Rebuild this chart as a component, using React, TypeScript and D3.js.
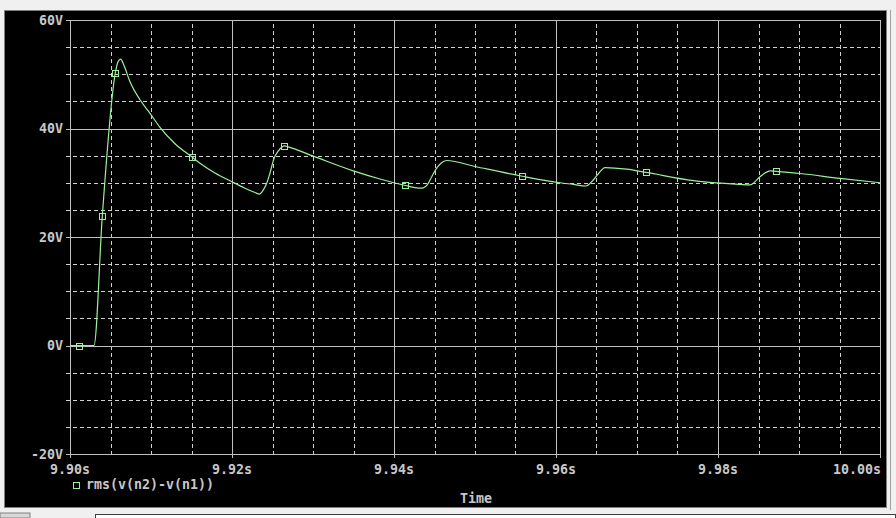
import React from "react";
import * as d3 from "d3";

// tick labels
const timeTickValues = [9.9, 9.92, 9.94, 9.96, 9.98, 10.0];
const timeTickLabels = ["9.90s", "9.92s", "9.94s", "9.96s", "9.98s", "10.00s"];
const voltTickValues = [-20, 0, 20, 40, 60];
const voltTickLabels = ["-20V", "0V", "20V", "40V", "60V"];
const seriesName = "rms(v(n2)-v(n1))";
const axisTitle = "Time";

// trace
const times = [
  9.9, 9.90296, 9.90399, 9.90559, 9.90593, 9.90626, 9.90667, 9.90741, 9.90864, 9.90988,
  9.91111, 9.91296, 9.9151, 9.91605, 9.9179, 9.91996, 9.9216, 9.92284, 9.92337, 9.92383,
  9.92428, 9.92469, 9.92519, 9.92568, 9.92617, 9.92646, 9.92695, 9.93004, 9.93498, 9.93827,
  9.9414, 9.94259, 9.94342, 9.94423, 9.94469, 9.94527, 9.9458, 9.94651, 9.95, 9.95584,
  9.96049, 9.96214, 9.9637, 9.9646, 9.96531, 9.96605, 9.96873, 9.97115, 9.97695, 9.98272,
  9.98395, 9.98519, 9.9858, 9.98642, 9.9872, 9.99012, 9.99506, 10.0,
];
const volts = [
  0, 0, 23.9, 50.2, 52.3, 52.8, 51.6, 48.6, 45.3, 42.8,
  40.2, 37.2, 34.7, 33.6, 31.8, 30.2, 29.0, 28.2, 27.9, 28.6,
  29.9, 31.8, 34.5, 35.8, 36.6, 36.8, 36.6, 34.9, 32.2, 30.7,
  29.5, 29.1, 29.0, 29.9, 31.2, 32.7, 33.6, 34.1, 33.0, 31.2,
  30.0, 29.7, 29.4, 30.5, 31.8, 32.8, 32.5, 31.9, 30.4, 29.7,
  29.6, 31.1, 31.8, 32.2, 32.1, 31.7, 30.8, 30.0,
];

// symbols drawn on the trace
const markerTimes = [9.90115, 9.90399, 9.90559, 9.9151, 9.92646, 9.9414, 9.95584, 9.97115, 9.9872];
const markerVolts = [0, 23.9, 50.2, 34.7, 36.8, 29.5, 31.2, 31.9, 32.1];

const W = 896, H = 518;
const left = 70, right = 880, top = 20, bottom = 454;
const font = "'DejaVu Sans Mono', monospace";
const textColor = "#c8c8c8";
const gridColor = "#c0c0c0";
const traceColor = "#9cf09c";

export default function App() {
  const x = d3.scaleLinear().domain([9.9, 10.0]).range([left, right]);
  const y = d3.scaleLinear().domain([-20, 60]).range([bottom, top]);

  const minorX = d3.range(0, 21).map((i) => 9.9 + i * 0.005).filter((_, i) => i % 4 !== 0);
  const minorY = d3.range(-20, 61, 5).filter((v) => v % 20 !== 0);

  const pts = times.map((t, i) => [t, volts[i]] as [number, number]);
  const line = d3.line<[number, number]>()
    .x((d) => x(d[0]))
    .y((d) => y(d[1]))
    .curve(d3.curveMonotoneX);

  const px = (v: number) => Math.round(v) + 0.5;

  return (
    <div style={{ position: "absolute", left: 0, top: 0, width: W, height: H }}>
      <svg width={W} height={H} style={{ display: "block" }}>
        {/* window chrome */}
        <rect x={0} y={0} width={W} height={H} fill="#f0f0f0" />
        <rect x={4.5} y={10.5} width={882} height={497} fill="#000" stroke="#808080" />
        <line x1={890.5} y1={10} x2={890.5} y2={510} stroke="#a0a0a0" />
        <rect x={95.5} y={514.5} width={800} height={10} fill="#fff" stroke="#404040" />
        <rect x={0} y={513} width={30} height={5} fill="#d8d8d8" stroke="#808080" />

        {/* dashed grid */}
        <g stroke="#d0d0d0" strokeDasharray="4,3" shapeRendering="crispEdges">
          {minorY.map((v) => (
            <line key={"hy" + v} x1={66} x2={right} y1={px(y(v))} y2={px(y(v))} />
          ))}
          {minorX.map((t, i) => (
            <line key={"vx" + i} x1={px(x(t))} x2={px(x(t))} y1={top + 4} y2={bottom} />
          ))}
        </g>

        {/* solid grid + frame */}
        <g stroke={gridColor} shapeRendering="crispEdges">
          {voltTickValues.map((v) => (
            <line key={"sy" + v} x1={66} x2={right} y1={px(y(v))} y2={px(y(v))} />
          ))}
          {timeTickValues.map((t, i) => (
            <line key={"sx" + i} x1={px(x(t))} x2={px(x(t))} y1={top} y2={bottom + 4} />
          ))}
        </g>

        {/* trace */}
        <path d={line(pts) || ""} fill="none" stroke={traceColor} strokeWidth={1.2} />
        <g fill="none" stroke={traceColor} shapeRendering="crispEdges">
          {markerTimes.map((t, i) => (
            <rect key={"m" + i} x={px(x(t)) - 3} y={px(y(markerVolts[i])) - 3} width={6} height={6} />
          ))}
        </g>

        {/* labels */}
        <g fill={textColor} fontFamily={font} fontSize={13.3} fontWeight="bold">
          {voltTickValues.map((v, i) => (
            <text key={"yl" + v} x={63} y={y(v) + 4.8} textAnchor="end">{voltTickLabels[i]}</text>
          ))}
          {timeTickValues.map((t, i) => (
            <text key={"xl" + i} x={i === 5 ? right + 1 : x(t)} y={474} textAnchor={i === 5 ? "end" : "middle"}>
              {timeTickLabels[i]}
            </text>
          ))}
          <text x={86} y={489}>{seriesName}</text>
          <text x={476} y={503} textAnchor="middle">{axisTitle}</text>
        </g>
        <rect x={73.5} y={482.5} width={6} height={6} fill="none" stroke={traceColor} shapeRendering="crispEdges" />
      </svg>
    </div>
  );
}
